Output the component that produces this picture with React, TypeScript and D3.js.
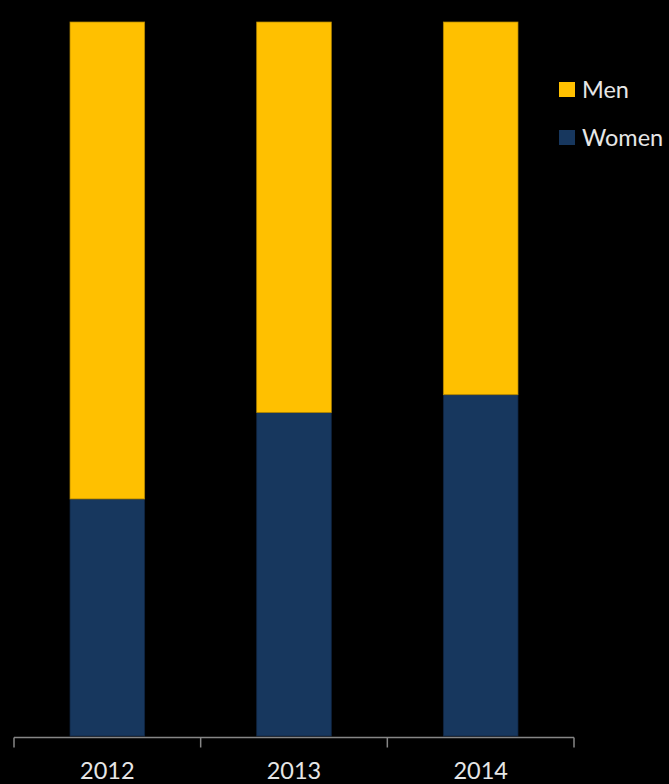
import React from "react";
import * as d3 from "d3";

const years = ["2012", "2013", "2014"];
const women = [33.2, 45.3, 47.8];
const men = [66.8, 54.7, 52.2];
const seriesNames = ["Men", "Women"];
const seriesColors = ["#FFC000", "#17375E"];
const strokeColors = ["#B38600", "#0F2440"];

const W = 669;
const H = 784;

export default function App() {
  const x = d3.scaleBand<string>().domain(years).range([14, 574]).paddingInner(0.6).paddingOuter(0.3);
  const y = d3.scaleLinear().domain([0, 100]).range([736, 22]);
  const rows = years.map((yr, i) => ({ year: yr, Women: women[i], Men: men[i] }));
  const stack = d3.stack<any>().keys(["Women", "Men"]);
  const layers = stack(rows);
  const colorOf = (k: string) => seriesColors[seriesNames.indexOf(k)];
  const strokeOf = (k: string) => strokeColors[seriesNames.indexOf(k)];
  const axisY = 737.5;
  const tickXs = [14, ...years.map((yr) => (x(yr) as number) + x.bandwidth() / 2 + x.step() / 2)];
  const font = "Lato, 'Open Sans', 'Liberation Sans', sans-serif";
  return (
    <svg width={W} height={H} style={{ position: "absolute", left: 0, top: 0, background: "#000" }}>
      <rect x={0} y={0} width={W} height={H} fill="#000" />
      {layers.map((layer) => (
        <g key={layer.key}>
          {layer.map((d, i) => (
            <rect
              key={i}
              x={x(years[i])}
              y={y(d[1])}
              width={x.bandwidth()}
              height={y(d[0]) - y(d[1])}
              fill={colorOf(layer.key)}
              stroke={strokeOf(layer.key)}
              strokeWidth={0.75}
            />
          ))}
        </g>
      ))}
      <line x1={14} x2={574} y1={axisY} y2={axisY} stroke="#868686" strokeWidth={1.5} />
      {tickXs.map((tx, i) => (
        <line key={i} x1={tx} x2={tx} y1={axisY} y2={axisY + 10} stroke="#868686" strokeWidth={1.5} />
      ))}
      {years.map((yr) => (
        <text
          key={yr}
          x={(x(yr) as number) + x.bandwidth() / 2}
          y={779}
          textAnchor="middle"
          fill="#E6E6E6"
          fontFamily={font}
          fontSize={23.5}
        >
          {yr}
        </text>
      ))}
      {seriesNames.map((name, i) => (
        <g key={name} transform={`translate(559, ${82 + i * 48})`}>
          <rect x={0} y={0} width={16} height={15} fill={seriesColors[i]} />
          <text x={23} y={16} fill="#E6E6E6" fontFamily={font} fontSize={23.5}>
            {name}
          </text>
        </g>
      ))}
    </svg>
  );
}
